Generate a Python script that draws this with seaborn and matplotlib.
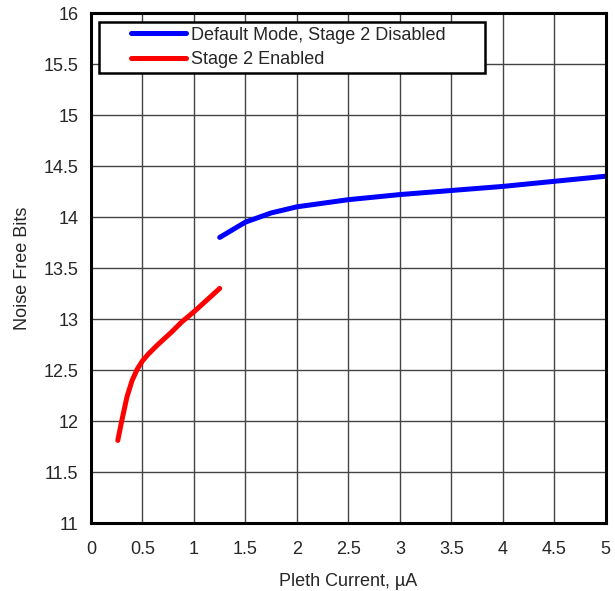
import numpy as np
import pandas as pd
import seaborn as sns
import matplotlib.pyplot as plt
from matplotlib.legend_handler import HandlerLine2D

# Datos
corriente_stage1 = [1.25, 1.5, 1.75, 2.0, 2.5, 3.0, 3.5, 4.0, 4.5, 5.0]
bits_stage1 = [13.80, 13.95, 14.04, 14.10, 14.17, 14.22, 14.26, 14.30, 14.35, 14.40]

corriente_stage2 = [0.26, 0.30, 0.35, 0.40, 0.45, 0.50, 0.56, 0.65, 0.78, 0.88, 1.01, 1.25]
bits_stage2 = [11.81, 12.01, 12.24, 12.40, 12.51, 12.59, 12.66, 12.75, 12.87, 12.97, 13.08, 13.30]

etiquetas = ["Default Mode, Stage 2 Disabled", "Stage 2 Enabled"]

df = pd.concat([
    pd.DataFrame({"x": corriente_stage1, "y": bits_stage1, "serie": etiquetas[0]}),
    pd.DataFrame({"x": corriente_stage2, "y": bits_stage2, "serie": etiquetas[1]}),
])

sns.set_style("white")
plt.rcParams['font.family'] = ['Liberation Sans', 'DejaVu Sans']

fs = 13

fig = plt.figure(figsize=(6.15, 5.91), dpi=100)
ax = fig.add_axes([0.148, 0.115, 0.837, 0.863])

sns.lineplot(data=df, x="x", y="y", hue="serie", hue_order=etiquetas,
             palette=["#0000FF", "#FF0000"], linewidth=3.6, sort=False,
             ax=ax, solid_capstyle="round")

ax.set_xlim(0, 5)
ax.set_ylim(11, 16)
ax.set_xticks(np.arange(0, 5.01, 0.5))
ax.set_yticks(np.arange(11, 16.01, 0.5))
ax.set_xticklabels(["0", "0.5", "1", "1.5", "2", "2.5", "3", "3.5", "4", "4.5", "5"])
ax.set_yticklabels(["11", "11.5", "12", "12.5", "13", "13.5", "14", "14.5", "15", "15.5", "16"])
ax.tick_params(axis="x", labelsize=fs, length=0, pad=13)
ax.tick_params(axis="y", labelsize=fs, length=0, pad=9)
ax.grid(True, color="#444444", linewidth=1.0)
for s in ax.spines.values():
    s.set_color("black")
    s.set_linewidth(2.2)

ax.set_xlabel("Pleth Current, µA", fontsize=fs, labelpad=11)
ax.set_ylabel("Noise Free Bits", fontsize=fs, labelpad=9)

# Leyenda con hueco a la izquierda de la linea
px = fs * 100 / 72
leg = ax.legend(loc="upper left", bbox_to_anchor=(0.0155, 0.982, 0.75, 0.0),
                mode="expand", fontsize=fs, borderaxespad=0,
                frameon=True, fancybox=False, edgecolor="black",
                handlelength=82 / px, borderpad=0.25, labelspacing=0.42,
                handletextpad=0.28, title=None,
                handler_map={plt.Line2D: HandlerLine2D(xpad=27 / px)})
leg.get_frame().set_linewidth(1.8)
leg.get_frame().set_alpha(1)
for h in leg.get_lines():
    h.set_linewidth(3.6)

fig.savefig("out.png", dpi=100)
